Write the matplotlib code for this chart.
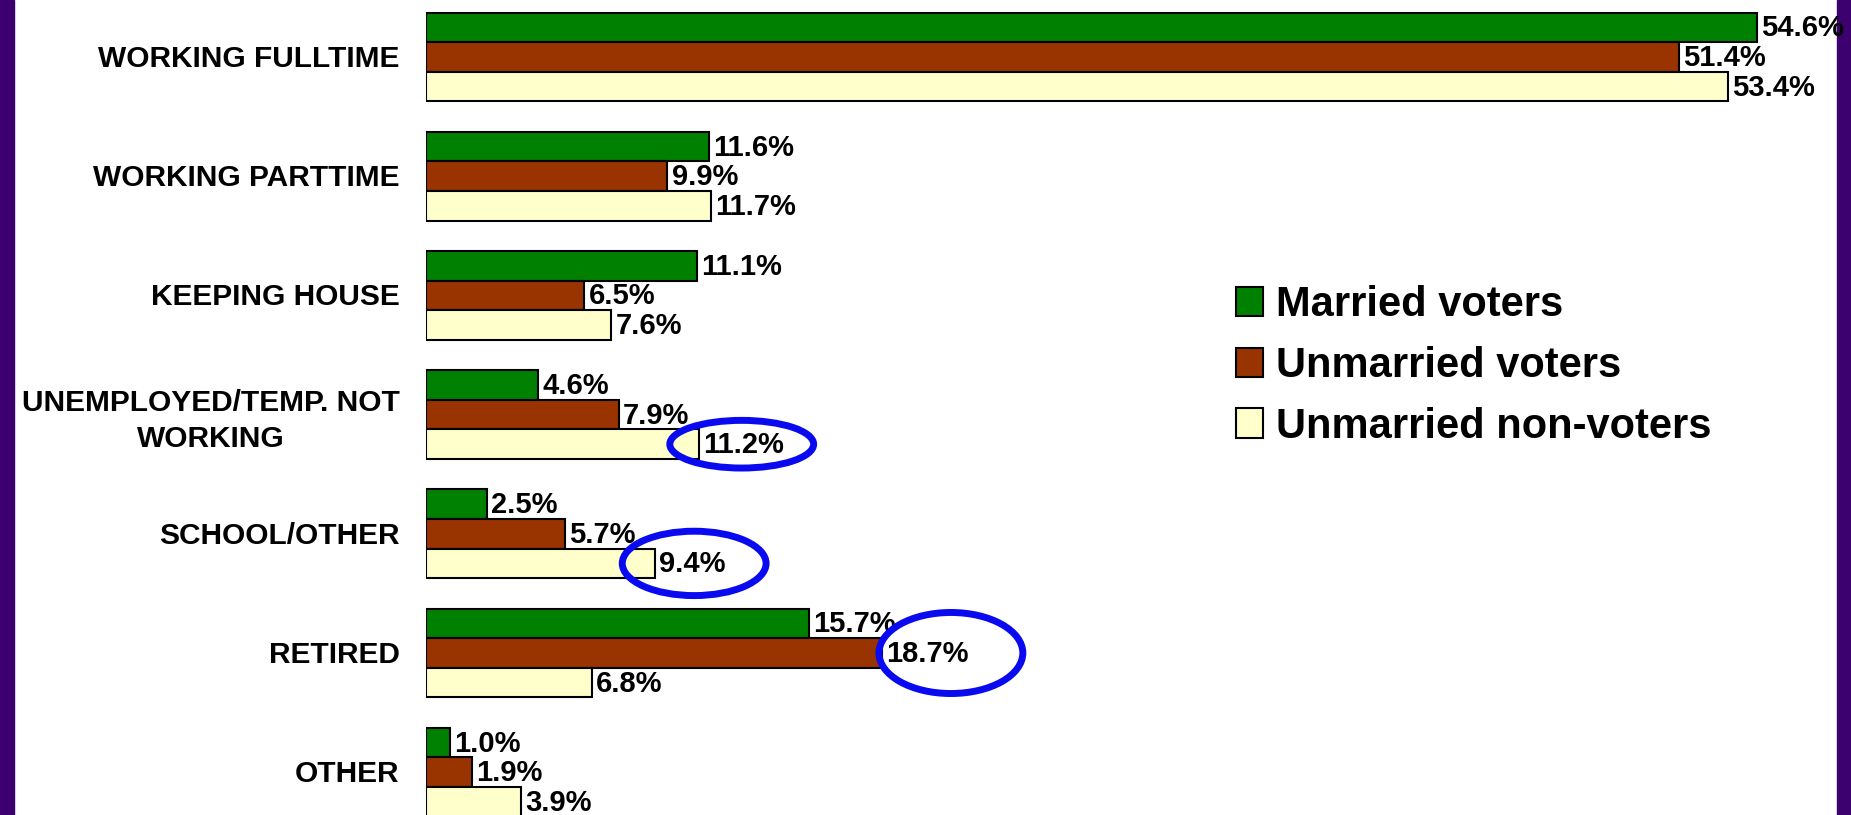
import matplotlib.pyplot as plt
from matplotlib.patches import Ellipse, Rectangle
import numpy as np

plt.rcParams['font.family'] = ['Liberation Sans', 'DejaVu Sans']
plt.rcParams['font.weight'] = 'bold'

categories = ["WORKING FULLTIME", "WORKING PARTTIME", "KEEPING HOUSE",
              "UNEMPLOYED/TEMP. NOT\nWORKING", "SCHOOL/OTHER", "RETIRED", "OTHER"]
married_voters = [54.6, 11.6, 11.1, 4.6, 2.5, 15.7, 1.0]
unmarried_voters = [51.4, 9.9, 6.5, 7.9, 5.7, 18.7, 1.9]
unmarried_nonvoters = [53.4, 11.7, 7.6, 11.2, 9.4, 6.8, 3.9]
series_names = ["Married voters", "Unmarried voters", "Unmarried non-voters"]
series_colors = ["#008000", "#993300", "#FFFFCC"]

# circled values: (category index, series index)
highlights = [(3, 2), (4, 2), (5, 1)]

W, H = 1851, 815
fig = plt.figure(figsize=(W / 100, H / 100), dpi=100)
fig.patch.set_facecolor("white")

# purple side strips
purple = "#3D006F"
fig.add_artist(Rectangle((0, 0), 14 / W, 1, transform=fig.transFigure,
                         color=purple, zorder=-5))
fig.add_artist(Rectangle((1837 / W, 0), 14 / W, 1, transform=fig.transFigure,
                         color=purple, zorder=-5))

# layout in pixels: bars start at x=426, 24.38 px per percent,
# first group centred at y=57 px, groups 119.2 px apart
x0, px_per_pct = 426, 24.38
y0, pitch = 57, 119.2
ax = fig.add_axes([x0 / W, 0, 1 - x0 / W, 1])
ax.set_facecolor("none")
ax.set_xlim(0, (W - x0) / px_per_pct)
ax.set_ylim((H - y0) / pitch, -y0 / pitch)
ax.set_axis_off()

h = 29.6 / pitch
pos = np.arange(len(categories))
all_series = [married_voters, unmarried_voters, unmarried_nonvoters]
bars = []
for j, (vals, name, col) in enumerate(zip(all_series, series_names, series_colors)):
    b = ax.barh(pos + (j - 1) * h, vals, height=h, color=col, edgecolor="black",
                linewidth=1.5, label=name, zorder=2)
    bars.append(b)
    for y, v in zip(pos + (j - 1) * h, vals):
        ax.annotate(f"{v:.1f}%", xy=(v, y), xytext=(3, 1.5), textcoords="offset points",
                    ha="left", va="center_baseline", fontsize=21, fontweight="bold",
                    annotation_clip=False, zorder=4)

for i, cat in enumerate(categories):
    dy = -4.5 if "\n" in cat else -1.5
    ax.annotate(cat, xy=(0, i), xytext=(-19, dy), textcoords="offset points",
                ha="right", va="center", multialignment="center", fontsize=21.5,
                fontweight="bold", linespacing=1.35, annotation_clip=False)

# blue circles around highlighted values (shift right of value, ellipse height)
circle_shift = [1.75, 1.6, 2.83]
circle_height = [0.40, 0.54, 0.68]
for (ci, sj), dx, eh in zip(highlights, circle_shift, circle_height):
    v = all_series[sj][ci]
    ax.add_patch(Ellipse((v + dx, ci + (sj - 1) * h), 5.9, eh, facecolor="none",
                         edgecolor="#0A0AF0", linewidth=5, zorder=5, clip_on=False))

fig.legend(handles=bars, labels=series_names, loc="upper left",
           bbox_to_anchor=(1236 / W, 1 - 285 / H), frameon=False,
           handlelength=0.65, handleheight=0.7, handletextpad=0.3,
           labelspacing=0.5, borderpad=0, borderaxespad=0,
           prop={"weight": "bold", "size": 30})

fig.savefig("out.png", dpi=100)
